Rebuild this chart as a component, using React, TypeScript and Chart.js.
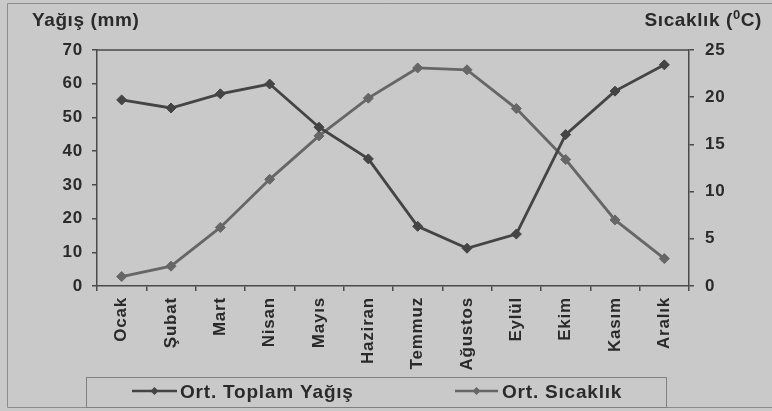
import React, { useEffect, useRef } from 'react';
import { Chart, registerables } from 'chart.js';

Chart.register(...registerables);

// ---- data ----
const months = ['Ocak', 'Şubat', 'Mart', 'Nisan', 'Mayıs', 'Haziran', 'Temmuz', 'Ağustos', 'Eylül', 'Ekim', 'Kasım', 'Aralık'];
const yagis = [55.2, 52.8, 57.0, 59.9, 47.1, 37.7, 17.7, 11.2, 15.4, 44.9, 57.8, 65.6];
const sicaklik = [1.0, 2.1, 6.2, 11.3, 15.9, 19.9, 23.1, 22.9, 18.8, 13.4, 7.0, 2.9];
const yagisLabel = 'Ort. Toplam Yağış';
const sicaklikLabel = 'Ort. Sıcaklık';
const leftTitle = 'Yağış (mm)';
const rightTitleParts = ['Sıcaklık (', '0', 'C)'];
const leftAxis = { min: 0, max: 70, step: 10 };
const rightAxis = { min: 0, max: 25, step: 5 };

// ---- styles ----
const BG = '#c9c9c9';
const TXT = '#2a2a2a';
const AXIS = '#4a4a4a';
const DARK = '#444444';
const LIGHT = '#666666';
const FAMILY = '"Liberation Sans", Arial, sans-serif';

const decorPlugin = {
  id: 'decor',
  beforeDraw(chart: any) {
    const ctx = chart.ctx;
    ctx.save();
    ctx.fillStyle = BG;
    ctx.fillRect(0, 0, chart.width, chart.height);
    ctx.restore();
    ctx.letterSpacing = '0.8px';
  },
  afterDraw(chart: any) {
    const ctx = chart.ctx;
    const a = chart.chartArea;
    ctx.save();
    // top border of plot area
    ctx.strokeStyle = AXIS;
    ctx.lineWidth = 1.5;
    ctx.beginPath();
    ctx.moveTo(a.left, a.top);
    ctx.lineTo(a.right, a.top);
    ctx.stroke();

    // outer frame
    ctx.strokeStyle = '#8c8c8c';
    ctx.lineWidth = 1;
    ctx.beginPath();
    ctx.moveTo(7.5, 407.5);
    ctx.lineTo(7.5, 3.5);
    ctx.lineTo(772, 3.5);
    ctx.moveTo(7.5, 407.5);
    ctx.lineTo(772, 407.5);
    ctx.stroke();

    // axis titles
    ctx.fillStyle = TXT;
    ctx.letterSpacing = '0.6px';
    ctx.font = `bold 19px ${FAMILY}`;
    ctx.textBaseline = 'alphabetic';
    ctx.textAlign = 'left';
    ctx.fillText(leftTitle, 32, 26);
    const w1 = ctx.measureText(rightTitleParts[0]).width;
    const w3 = ctx.measureText(rightTitleParts[2]).width;
    ctx.font = `bold 13px ${FAMILY}`;
    const w2 = ctx.measureText(rightTitleParts[1]).width;
    let x = 762 - (w1 + w2 + w3);
    ctx.font = `bold 19px ${FAMILY}`;
    ctx.fillText(rightTitleParts[0], x, 26);
    x += w1;
    ctx.font = `bold 13px ${FAMILY}`;
    ctx.fillText(rightTitleParts[1], x, 19);
    x += w2;
    ctx.font = `bold 19px ${FAMILY}`;
    ctx.fillText(rightTitleParts[2], x, 26);

    // legend box
    ctx.strokeStyle = '#808080';
    ctx.lineWidth = 1;
    ctx.strokeRect(86.5, 377.5, 580, 30);

    const items = [
      { label: yagisLabel, color: DARK, x0: 132, x1: 177, tx: 180 },
      { label: sicaklikLabel, color: LIGHT, x0: 455, x1: 498, tx: 502 },
    ];
    const ly = 391;
    items.forEach((it) => {
      ctx.strokeStyle = it.color;
      ctx.lineWidth = 2.5;
      ctx.beginPath();
      ctx.moveTo(it.x0, ly);
      ctx.lineTo(it.x1, ly);
      ctx.stroke();
      const cx = (it.x0 + it.x1) / 2;
      ctx.fillStyle = it.color;
      ctx.beginPath();
      ctx.moveTo(cx - 4, ly);
      ctx.lineTo(cx, ly - 4);
      ctx.lineTo(cx + 4, ly);
      ctx.lineTo(cx, ly + 4);
      ctx.closePath();
      ctx.fill();
      ctx.fillStyle = TXT;
      ctx.letterSpacing = '0.8px';
      ctx.font = `bold 19px ${FAMILY}`;
      ctx.textAlign = 'left';
      ctx.textBaseline = 'alphabetic';
      ctx.fillText(it.label, it.tx, 397.5);
    });
    ctx.restore();
  },
};

export default function App() {
  const ref = useRef<HTMLCanvasElement>(null);
  useEffect(() => {
    document.body.style.margin = '0';
    document.body.style.background = BG;
    const font = { family: FAMILY, weight: 'bold' as const, size: 17 };
    const chart = new Chart(ref.current!, {
      type: 'line',
      data: {
        labels: months,
        datasets: [
          {
            label: yagisLabel,
            data: yagis,
            yAxisID: 'y',
            borderColor: DARK,
            backgroundColor: DARK,
            borderWidth: 2.8,
            pointStyle: 'rectRot',
            pointRadius: 5,
            pointBorderWidth: 1,
            pointBackgroundColor: DARK,
            pointBorderColor: DARK,
            tension: 0,
          },
          {
            label: sicaklikLabel,
            data: sicaklik,
            yAxisID: 'y1',
            borderColor: LIGHT,
            backgroundColor: LIGHT,
            borderWidth: 2.8,
            pointStyle: 'rectRot',
            pointRadius: 5,
            pointBorderWidth: 1,
            pointBackgroundColor: LIGHT,
            pointBorderColor: LIGHT,
            tension: 0,
          },
        ],
      },
      options: {
        responsive: false,
        animation: false,
        devicePixelRatio: 1,
        layout: { padding: { top: 50, left: 0, right: 0, bottom: 0 } },
        plugins: {
          legend: { display: false },
          tooltip: { enabled: false },
          title: { display: false },
        },
        scales: {
          x: {
            type: 'category',
            offset: true,
            grid: { offset: true, drawOnChartArea: false, tickLength: 5, color: AXIS, lineWidth: 1.5 },
            border: { color: AXIS, width: 1.5 },
            ticks: { autoSkip: false, maxRotation: 90, minRotation: 90, padding: 6, color: TXT, font },
            afterFit: (s: any) => { s.height = 125; },
          },
          y: {
            position: 'left',
            min: leftAxis.min,
            max: leftAxis.max,
            grid: { drawOnChartArea: false, tickLength: 5, color: AXIS, lineWidth: 1.5 },
            border: { color: AXIS, width: 1.5 },
            ticks: { stepSize: leftAxis.step, padding: 9, color: TXT, font },
            afterFit: (s: any) => { s.width = 97; },
          },
          y1: {
            position: 'right',
            min: rightAxis.min,
            max: rightAxis.max,
            grid: { drawOnChartArea: false, tickLength: 5, color: AXIS, lineWidth: 1.5 },
            border: { color: AXIS, width: 1.5 },
            ticks: { stepSize: rightAxis.step, padding: 11, color: TXT, font },
            afterFit: (s: any) => { s.width = 83; },
          },
        },
      },
      plugins: [decorPlugin],
    });
    return () => chart.destroy();
  }, []);
  return (
    <div style={{ width: 772, height: 411 }}>
      <canvas ref={ref} width={772} height={411} style={{ display: 'block', width: 772, height: 411 }} />
    </div>
  );
}
